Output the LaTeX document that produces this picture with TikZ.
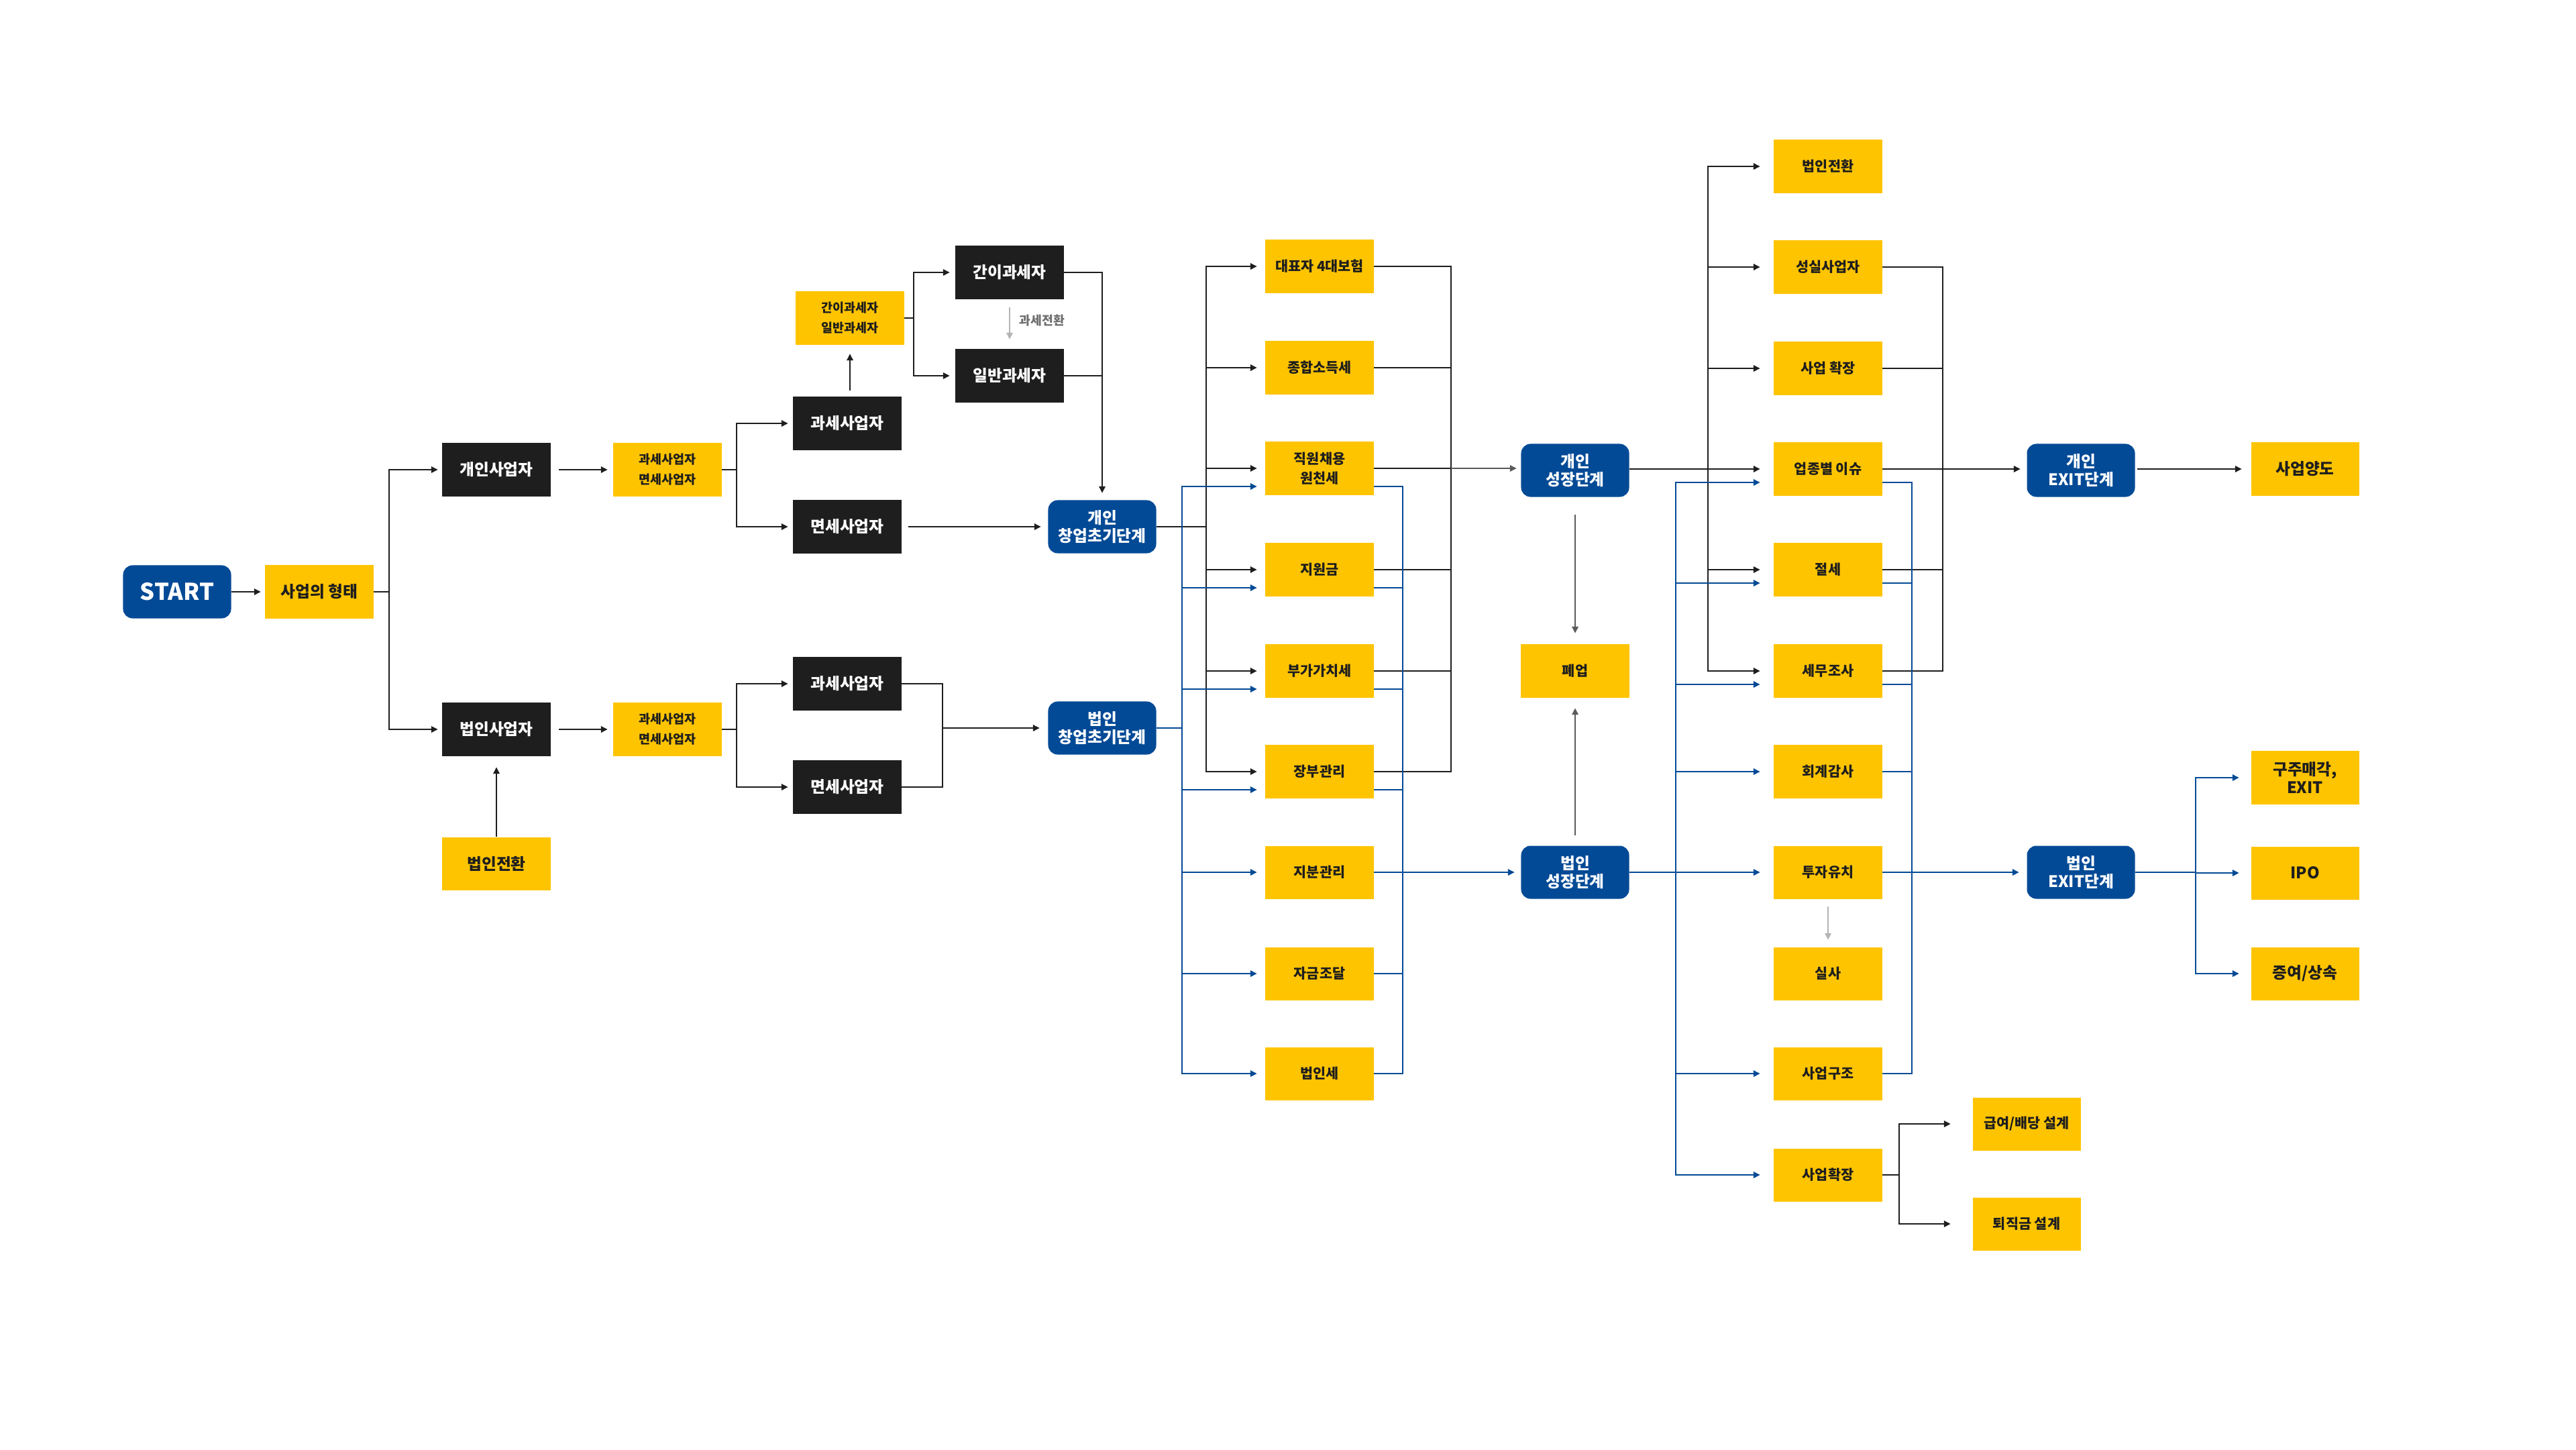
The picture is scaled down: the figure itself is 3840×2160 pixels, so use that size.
\documentclass[tikz,border=0pt]{standalone}
\usepackage{fontspec}
\setmainfont{Noto Sans CJK KR}
\usetikzlibrary{arrows.meta,calc}
\definecolor{yel}{HTML}{FFC400}
\definecolor{blk}{HTML}{1E1E1E}
\definecolor{blu}{HTML}{034A96}
\definecolor{lgray}{HTML}{B4B4B4}
\definecolor{dgray}{HTML}{5A5A5A}
\definecolor{lbl}{HTML}{6E6E6E}
\begin{document}
\begin{tikzpicture}[x=0.01cm,y=-0.01cm,
  box/.style={minimum width=1.61cm,minimum height=0.79cm,inner sep=0pt,align=center},
  fmid/.style={font=\bfseries\fontsize{5.9pt}{8.2pt}\selectfont},
  fsmall/.style={font=\bfseries\fontsize{5.25pt}{8.5pt}\selectfont},
  fbig/.style={font=\bfseries\fontsize{6.75pt}{7.7pt}\selectfont},
  ybox/.style={box,fill=yel,text=blk,fmid},
  kbox/.style={box,fill=blk,text=white,fbig},
  bbox/.style={box,fill=blu,text=white,rounded corners=4pt,fbig},
  ln/.style={draw=blk,line width=0.7pt},
  bln/.style={draw=blu,line width=0.75pt},
  arr/.style={ln,-{Triangle[length=2.8pt,width=2.6pt]}},
  barr/.style={bln,-{Triangle[length=2.8pt,width=2.6pt]}},
  darr/.style={draw=dgray,line width=0.7pt,-{Triangle[length=2.8pt,width=2.6pt]}},
  garr/.style={draw=lgray,line width=0.7pt,-{Triangle[length=2.8pt,width=2.6pt]}}]
\fill[white] (0,0) rectangle (3840,2160);
\useasboundingbox (0,0) rectangle (3840,2160);

% ---- left part
\node[bbox,font=\bfseries\fontsize{9.8pt}{12pt}\selectfont] (start) at (264,882) {START};
\node[ybox,fbig] (form) at (476,882) {사업의 형태};
\node[kbox] (gae) at (740,700) {개인사업자};
\node[kbox] (beob) at (740,1087) {법인사업자};
\node[ybox,fsmall] (y1) at (995,700) {과세사업자\\면세사업자};
\node[ybox,fsmall] (y2) at (995,1087) {과세사업자\\면세사업자};
\node[kbox] (gwa1) at (1263,631) {과세사업자};
\node[kbox] (myeon1) at (1263,785) {면세사업자};
\node[ybox,fsmall] (gani) at (1267,474) {간이과세자\\일반과세자};
\node[kbox] (gwa2) at (1263,1019) {과세사업자};
\node[kbox] (myeon2) at (1263,1173) {면세사업자};
\node[ybox,fbig] (conv) at (740,1287) {법인전환};
\node[kbox] (ganiB) at (1505,406) {간이과세자};
\node[kbox] (ilban) at (1505,560) {일반과세자};
\node[bbox] (gc) at (1643,785) {개인\\창업초기단계};
\node[bbox] (bc) at (1643,1085) {법인\\창업초기단계};

% ---- middle column
\node[ybox] (m1) at (1967,397) {대표자 4대보험};
\node[ybox] (m2) at (1967,548) {종합소득세};
\node[ybox] (m3) at (1967,698) {직원채용\\원천세};
\node[ybox] (m4) at (1967,849) {지원금};
\node[ybox] (m5) at (1967,1000) {부가가치세};
\node[ybox] (m6) at (1967,1150) {장부관리};
\node[ybox] (m7) at (1967,1300) {지분관리};
\node[ybox] (m8) at (1967,1451) {자금조달};
\node[ybox] (m9) at (1967,1600) {법인세};

\node[bbox] (gs) at (2348,701) {개인\\성장단계};
\node[ybox] (closing) at (2348,1000) {폐업};
\node[bbox] (bs) at (2348,1300) {법인\\성장단계};

% ---- right column
\node[ybox] (r1) at (2725,248) {법인전환};
\node[ybox] (r2) at (2725,398) {성실사업자};
\node[ybox] (r3) at (2725,549) {사업 확장};
\node[ybox] (r4) at (2725,699) {업종별 이슈};
\node[ybox] (r5) at (2725,849) {절세};
\node[ybox] (r6) at (2725,1000) {세무조사};
\node[ybox] (r7) at (2725,1150) {회계감사};
\node[ybox] (r8) at (2725,1300) {투자유치};
\node[ybox] (r9) at (2725,1451) {실사};
\node[ybox] (r10) at (2725,1600) {사업구조};
\node[ybox] (r11) at (2725,1751) {사업확장};

\node[bbox] (ge) at (3102,701) {개인\\EXIT단계};
\node[bbox] (be) at (3102,1300) {법인\\EXIT단계};
\node[ybox,fbig] (sale) at (3436,699) {사업양도};
\node[ybox,fbig] (e1) at (3436,1159) {구주매각,\\EXIT};
\node[ybox,fbig] (e2) at (3436,1301) {IPO};
\node[ybox,fbig] (e3) at (3436,1451) {증여/상속};
\node[ybox] (s1) at (3021,1675) {급여/배당 설계};
\node[ybox] (s2) at (3021,1824) {퇴직금 설계};

% ---- connectors left
\draw[arr,shorten >=0.06cm] (start.east) -- (form.west);
\coordinate (t1) at (580,882);
\draw[ln] (form.east) -- (t1);
\draw[arr,shorten >=0.06cm] (t1) |- (gae.west);
\draw[arr,shorten >=0.06cm] (t1) |- (beob.west);
\draw[arr,shorten <=0.12cm,shorten >=0.08cm] (gae.east) -- (y1.west);
\draw[arr,shorten <=0.12cm,shorten >=0.08cm] (beob.east) -- (y2.west);
\coordinate (t2) at (1098,700);
\draw[ln] (y1.east) -- (t2);
\draw[arr,shorten >=0.07cm] (t2) |- (gwa1.west);
\draw[arr,shorten >=0.07cm] (t2) |- (myeon1.west);
\coordinate (t3) at (1098,1087);
\draw[ln] (y2.east) -- (t3);
\draw[arr,shorten >=0.07cm] (t3) |- (gwa2.west);
\draw[arr,shorten >=0.07cm] (t3) |- (myeon2.west);
\draw[arr,shorten <=0.09cm,shorten >=0.13cm] (gani.south |- gwa1.north) -- (gani.south);
\coordinate (t4) at (1362,474);
\draw[ln] (gani.east) -- (t4);
\draw[arr,shorten >=0.08cm] (t4) |- (ganiB.west);
\draw[arr,shorten >=0.08cm] (t4) |- (ilban.west);
\draw[garr,shorten <=0.12cm,shorten >=0.14cm] (ganiB.south) -- (ilban.north);
\node[anchor=west,text=lbl,font=\bfseries\fontsize{5.2pt}{6pt}\selectfont,inner sep=0pt] (lab) at (1519,478) {과세전환};
\draw[arr,shorten >=0.1cm] (ganiB.east) -| (gc.north);
\draw[ln] (ilban.east) -- (ilban.east -| gc.north);
\draw[arr,shorten <=0.1cm,shorten >=0.1cm] (myeon1.east) -- (gc.west);
\draw[arr,shorten >=0.16cm] (conv.north) -- (beob.south);
\coordinate (j1) at (1405,1085);
\draw[ln] (gwa2.east) -| (j1);
\draw[ln] (myeon2.east) -| (j1);
\draw[arr,shorten >=0.12cm] (j1) -- (bc.west);

% ---- connectors middle
\coordinate (t5) at (1798,785);
\draw[ln] (gc.east) -- (t5);
\foreach \m in {m1,m2,m3,m4,m5,m6} \draw[arr,shorten >=0.12cm] (t5) |- (\m.west);
\coordinate (t6) at (1762,1085);
\draw[bln] (bc.east) -- (t6);
\foreach \m in {m3,m4,m5,m6} \draw[barr,shorten >=0.12cm] (t6) |- ($(\m.west)+(0,27)$);
\foreach \m in {m7,m8,m9} \draw[barr,shorten >=0.12cm] (t6) |- (\m.west);
\coordinate (t7) at (2163,698);
\foreach \m in {m1,m2,m3,m4,m5,m6} \draw[ln] (\m.east) -| (t7);
\draw[darr,shorten >=0.06cm] (t7) -- (gs.west |- t7);
\coordinate (t8) at (2091,1300);
\foreach \m in {m3,m4,m5,m6} \draw[bln] ($(\m.east)+(0,27)$) -| (t8);
\foreach \m in {m7,m8,m9} \draw[bln] (\m.east) -| (t8);
\draw[barr,shorten >=0.09cm] (t8) -- (bs.west);
\draw[darr,shorten <=0.26cm,shorten >=0.16cm] (gs.south) -- (closing.north);
\draw[darr,shorten <=0.15cm,shorten >=0.15cm] (bs.north) -- (closing.south);

% ---- connectors right
\coordinate (t9) at (2546,699);
\draw[ln] (gs.east |- t9) -- (t9);
\foreach \r in {r1,r2,r3,r4,r5,r6} \draw[arr,shorten >=0.2cm] (t9) |- (\r.west);
\coordinate (t10) at (2498,1300);
\draw[bln] (bs.east) -- (t10);
\foreach \r in {r4,r5,r6} \draw[barr,shorten >=0.2cm] (t10) |- ($(\r.west)+(0,20)$);
\foreach \r in {r7,r8,r10,r11} \draw[barr,shorten >=0.2cm] (t10) |- (\r.west);
\coordinate (t11) at (2896,699);
\foreach \r in {r2,r3,r4,r5,r6} \draw[ln] (\r.east) -| (t11);
\draw[arr,shorten >=0.09cm] (t11) -- (ge.west |- t11);
\coordinate (t12) at (2850,1300);
\foreach \r in {r4,r5,r6} \draw[bln] ($(\r.east)+(0,20)$) -| (t12);
\foreach \r in {r7,r8,r10} \draw[bln] (\r.east) -| (t12);
\draw[barr,shorten >=0.11cm] (t12) -- (be.west);
\draw[arr,shorten <=0.03cm,shorten >=0.13cm] (ge.east |- sale.west) -- (sale.west);
\coordinate (t13) at (3273,1300);
\draw[bln] (be.east) -- (t13);
\foreach \e in {e1,e2,e3} \draw[barr,shorten >=0.17cm] (t13) |- (\e.west);
\coordinate (t14) at (2831,1751);
\draw[ln] (r11.east) -- (t14);
\draw[arr,shorten >=0.32cm] (t14) |- (s1.west);
\draw[arr,shorten >=0.32cm] (t14) |- (s2.west);
\draw[garr,shorten <=0.11cm,shorten >=0.1cm] (r8.south) -- (r9.north);
\end{tikzpicture}
\end{document}
